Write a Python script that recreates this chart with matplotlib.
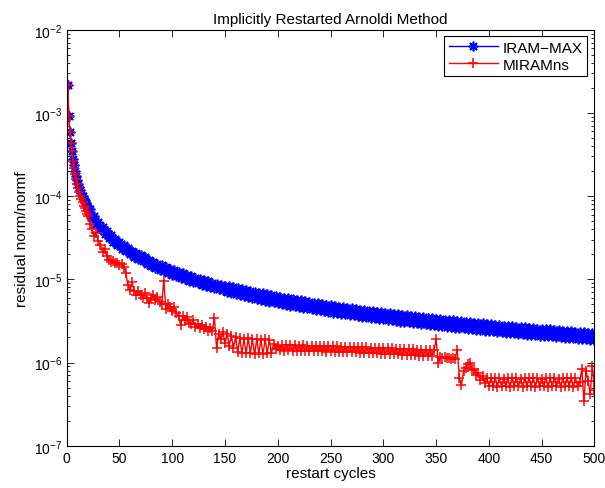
"""Residual history of IRAM-MAX vs MIRAMns over restart cycles."""
import matplotlib
matplotlib.use('Agg')
import matplotlib.pyplot as plt
import numpy as np
from matplotlib.ticker import LogLocator, NullFormatter

plt.rcParams['font.family'] = ['Liberation Sans', 'DejaVu Sans']

# restart cycles: every cycle up to 20, then every second cycle
cycles = np.r_[1:21, 22:501:2]

# residual norm / normf, in units of 1e-6
iram_max = [
    2160, 930, 593, 440, 350, 280, 235, 201, 176, 156,
    141, 128, 117, 108, 99.8, 92.9, 86.9, 81.5, 76.8, 72.6,
    # 22-150
    69.9, 55.1, 58.1, 46.5, 49.5, 40.1, 43.1, 35.2, 38.2, 31.3,
    34.1, 28.2, 30.9, 25.6, 28.1, 23.4, 25.9, 21.6, 23.9, 20.0,
    22.1, 18.6, 20.8, 17.4, 19.4, 16.4, 18.3, 15.4, 17.2, 14.5,
    16.3, 13.8, 15.4, 13.1, 14.7, 12.5, 14.0, 11.9, 13.4, 11.3,
    12.8, 10.9, 12.3, 10.4, 11.8, 10.0, 11.3, 9.67, 10.9, 9.30,
    10.5, 8.96, 10.1, 8.65, 9.78, 8.35, 9.46, 8.09, 9.15, 7.83,
    8.87, 7.59, 8.60, 7.36, 8.35,
    # 152-500
    7.00, 8.34, 6.80, 8.10, 6.61, 7.88, 6.43, 7.68, 6.26, 7.47,
    6.10, 7.28, 5.95, 7.10, 5.80, 6.93, 5.66, 6.77, 5.52, 6.60,
    5.40, 6.46, 5.28, 6.31, 5.16, 6.17, 5.05, 6.04, 4.94, 5.91,
    4.84, 5.80, 4.74, 5.68, 4.65, 5.57, 4.56, 5.46, 4.47, 5.35,
    4.39, 5.25, 4.30, 5.15, 4.22, 5.06, 4.14, 4.96, 4.06, 4.86,
    3.99, 4.79, 3.92, 4.71, 3.86, 4.63, 3.79, 4.55, 3.73, 4.48,
    3.68, 4.41, 3.61, 4.33, 3.56, 4.27, 3.50, 4.20, 3.45, 4.14,
    3.39, 4.07, 3.35, 4.02, 3.29, 3.95, 3.25, 3.89, 3.20, 3.84,
    3.16, 3.78, 3.11, 3.73, 3.07, 3.69, 3.03, 3.63, 2.98, 3.59,
    2.95, 3.54, 2.90, 3.49, 2.87, 3.44, 2.83, 3.40, 2.79, 3.36,
    2.76, 3.31, 2.73, 3.28, 2.69, 3.23, 2.66, 3.20, 2.63, 3.16,
    2.59, 3.12, 2.57, 3.09, 2.54, 3.05, 2.51, 3.01, 2.48, 2.98,
    2.45, 2.95, 2.42, 2.92, 2.39, 2.88, 2.37, 2.85, 2.34, 2.82,
    2.32, 2.78, 2.29, 2.75, 2.27, 2.73, 2.25, 2.70, 2.22, 2.67,
    2.20, 2.65, 2.17, 2.62, 2.16, 2.60, 2.14, 2.56, 2.11, 2.54,
    2.09, 2.52, 2.07, 2.50, 2.06, 2.48, 2.04, 2.44, 2.01, 2.42,
    1.99, 2.40, 1.97, 2.38, 1.96, 2.35, 1.94, 2.33, 1.92, 2.31,
    1.90, 2.29, 1.89, 2.28, 1.87,
]

miram_ns = [
    2160, 930, 590, 430, 350, 265, 215, 185, 160, 140,
    125, 112, 100, 92, 84, 77, 71, 66, 61, 57,
    # 22-56
    46, 40, 33, 36, 29, 26, 21, 23, 19, 17,
    16, 16.5, 15.5, 15.8, 15.0, 15.4, 14.2, 12,
    # 58-136
    8.5, 7.4, 9.2, 7.2, 6.4, 7.2, 6.5, 6.0, 6.8, 6.0,
    5.2, 6.0, 6.4, 5.6, 6.1, 5.3, 5.0, 9.6, 4.4, 5.1,
    4.7, 4.2, 4.7, 3.9, 3.6, 2.8, 3.6, 3.2, 3.5, 3.0,
    2.9, 3.2, 2.7, 2.9, 2.6, 2.8, 2.5, 2.7, 2.4, 2.6,
    # 138-200
    2.4, 3.4, 1.5, 2.2, 1.9, 2.3, 1.7, 2.2, 1.6, 2.1,
    1.5, 2.0, 1.35, 1.95, 1.3, 1.9, 1.3, 1.95, 1.3, 1.9,
    1.25, 1.9, 1.3, 1.85, 1.25, 1.9, 1.3, 1.85, 1.3, 1.65,
    1.45, 1.6,
    # 202-348
    1.40, 1.63, 1.39, 1.62, 1.40, 1.61, 1.38, 1.62, 1.39, 1.60,
    1.38, 1.61, 1.37, 1.60, 1.38, 1.59, 1.36, 1.60, 1.37, 1.58,
    1.36, 1.58, 1.35, 1.57, 1.36, 1.56, 1.34, 1.57, 1.35, 1.55,
    1.34, 1.55, 1.33, 1.54, 1.33, 1.53, 1.32, 1.54, 1.31, 1.52,
    1.31, 1.52, 1.30, 1.51, 1.30, 1.50, 1.29, 1.50, 1.28, 1.49,
    1.28, 1.48, 1.27, 1.48, 1.26, 1.47, 1.25, 1.46, 1.24, 1.45,
    1.23, 1.45, 1.22, 1.44, 1.22, 1.43, 1.21, 1.42, 1.20, 1.42,
    1.19, 1.41, 1.19, 1.40,
    # 350-400
    1.90, 1.00, 1.16, 1.13, 1.15, 1.12, 1.14, 1.11, 1.13, 1.10,
    1.43, 0.66, 0.53, 0.79, 0.87, 0.95, 1.00, 0.82, 0.84, 0.70,
    0.74, 0.62, 0.68, 0.56, 0.65, 0.52,
    # 402-484
    0.65, 0.52, 0.66, 0.51, 0.65, 0.52, 0.64, 0.52, 0.65, 0.51,
    0.66, 0.52, 0.65, 0.52, 0.64, 0.51, 0.65, 0.52, 0.66, 0.52,
    0.65, 0.51, 0.65, 0.52, 0.64, 0.52, 0.66, 0.51, 0.65, 0.52,
    0.65, 0.52, 0.64, 0.51, 0.65, 0.52, 0.66, 0.52, 0.65, 0.51,
    0.65, 0.52,
    # 486-500
    0.58, 0.83, 0.34, 0.79, 0.60, 0.42, 0.91, 0.47,
]

iram_max = np.array(iram_max) * 1e-6
miram_ns = np.array(miram_ns) * 1e-6

fig = plt.figure(figsize=(6.05, 4.89), dpi=100)
ax = fig.add_axes([0.1102, 0.0865, 0.8724, 0.8507])

ax.semilogy(cycles, iram_max, '-', color='#0000ff', lw=1.0, marker=(8, 2, 0),
            ms=7, mew=1.2, label='IRAM\u2212MAX')
ax.semilogy(cycles, miram_ns, '-', color='#ff0000', lw=1.0, marker='+',
            ms=7, mew=1.1, label='MIRAMns')

ax.set_xlim(0, 500)
ax.set_ylim(1e-7, 1e-2)
ax.set_xticks(np.arange(0, 501, 50))
ax.yaxis.set_major_locator(LogLocator(base=10, numticks=10))
ax.yaxis.set_minor_locator(LogLocator(base=10, subs=np.arange(2, 10), numticks=20))
ax.yaxis.set_minor_formatter(NullFormatter())
ax.tick_params(which='both', direction='in', top=True, right=True, labelsize=10, width=0.6)
ax.tick_params(which='major', length=5)
ax.tick_params(which='minor', length=2.5)
for s in ax.spines.values():
    s.set_linewidth(0.8)

ax.set_title('Implicitly Restarted Arnoldi Method', fontsize=11, pad=5)
ax.set_xlabel('restart cycles', fontsize=11, labelpad=1)
ax.set_ylabel('residual norm/normf', fontsize=11, labelpad=3)

leg = ax.legend(loc='upper right', bbox_to_anchor=(0.986, 0.985), borderaxespad=0,
                fontsize=11, fancybox=False, framealpha=1, edgecolor='black',
                handlelength=3.2, handletextpad=0.3, borderpad=0.3, labelspacing=0.2)
leg.get_frame().set_linewidth(0.8)

fig.savefig('out.png', dpi=100)
